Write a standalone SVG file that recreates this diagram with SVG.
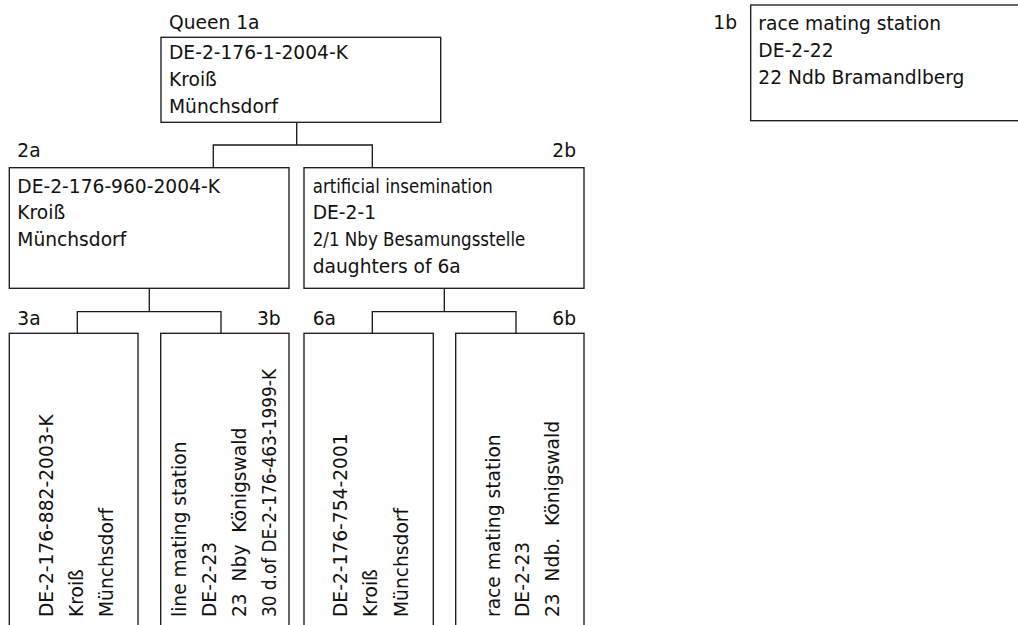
<svg xmlns="http://www.w3.org/2000/svg" width="1018" height="625" viewBox="0 0 1018 625">
<style>
.box{fill:#fff;stroke:#1a1a1a;stroke-width:1.33}
.con{fill:none;stroke:#1a1a1a;stroke-width:1.33}
text{font-family:"DejaVu Sans","Liberation Sans",sans-serif;font-size:18.67px;fill:#111}
.end{text-anchor:end}
</style>
<rect width="1018" height="625" fill="#fff"/>
<g id="connectors">
<path class="con" d="M296.7,122.3V145M213.3,167.7V145H372.3V167.7"/>
<path class="con" d="M149.3,288.3V311.7M77.3,333.3V311.7H221V333.3"/>
<path class="con" d="M444.3,288.3V311.7M372.3,333.3V311.7H516V333.3"/>
</g>
<g id="node-1a">
<text x="169" y="29.3">Queen 1a</text>
<rect class="box" x="161" y="37.3" width="279.7" height="85"/>
<text x="169" y="59.3">DE-2-176-1-2004-K</text>
<text x="169" y="86">Kroiß</text>
<text x="169" y="112.5">Münchsdorf</text>
</g>
<g id="node-1b">
<text x="713.3" y="29.3">1b</text>
<rect class="box" x="750.7" y="5" width="300" height="115.7"/>
<text x="758.3" y="30.3">race mating station</text>
<text x="758.3" y="57">DE-2-22</text>
<text x="758.3" y="83.5">22 Ndb Bramandlberg</text>
</g>
<g id="node-2a">
<text x="17.3" y="157.3">2a</text>
<rect class="box" x="9.3" y="167.7" width="279.7" height="120.6"/>
<text x="17.3" y="192.5">DE-2-176-960-2004-K</text>
<text x="17.3" y="219.2">Kroiß</text>
<text x="17.3" y="245.9">Münchsdorf</text>
</g>
<g id="node-2b">
<text class="end" x="576" y="157.3">2b</text>
<rect class="box" x="304" y="167.7" width="280" height="120.6"/>
<text x="312.7" y="192.5" textLength="180" lengthAdjust="spacingAndGlyphs">artificial insemination</text>
<text x="312.7" y="219.2">DE-2-1</text>
<text x="312.7" y="245.9" textLength="212.7" lengthAdjust="spacingAndGlyphs">2/1 Nby Besamungsstelle</text>
<text x="312.7" y="272.6">daughters of 6a</text>
</g>
<g id="node-3a">
<text x="17.3" y="325">3a</text>
<rect class="box" x="9.3" y="333.3" width="128.7" height="320"/>
<text transform="translate(53,617) rotate(-90)">DE-2-176-882-2003-K</text>
<text transform="translate(83,617) rotate(-90)">Kroiß</text>
<text transform="translate(113,617) rotate(-90)">Münchsdorf</text>
</g>
<g id="node-3b">
<text class="end" x="280.7" y="325">3b</text>
<rect class="box" x="160.7" y="333.3" width="128.3" height="320"/>
<text transform="translate(186,617) rotate(-90)">line mating station</text>
<text transform="translate(216,617) rotate(-90)">DE-2-23</text>
<text transform="translate(245.5,617) rotate(-90)" xml:space="preserve">23  Nby  Königswald</text>
<text transform="translate(275.7,617) rotate(-90)" textLength="248" lengthAdjust="spacingAndGlyphs">30 d.of DE-2-176-463-1999-K</text>
</g>
<g id="node-6a">
<text x="312.7" y="325">6a</text>
<rect class="box" x="304" y="333.3" width="129.3" height="320"/>
<text transform="translate(347.3,617) rotate(-90)">DE-2-176-754-2001</text>
<text transform="translate(377.3,617) rotate(-90)">Kroiß</text>
<text transform="translate(407.5,617) rotate(-90)">Münchsdorf</text>
</g>
<g id="node-6b">
<text class="end" x="576" y="325">6b</text>
<rect class="box" x="455.7" y="333.3" width="128.3" height="320"/>
<text transform="translate(499.5,617) rotate(-90)">race mating station</text>
<text transform="translate(529.3,617) rotate(-90)">DE-2-23</text>
<text transform="translate(559.3,617) rotate(-90)" xml:space="preserve">23  Ndb.  Königswald</text>
</g>
</svg>
